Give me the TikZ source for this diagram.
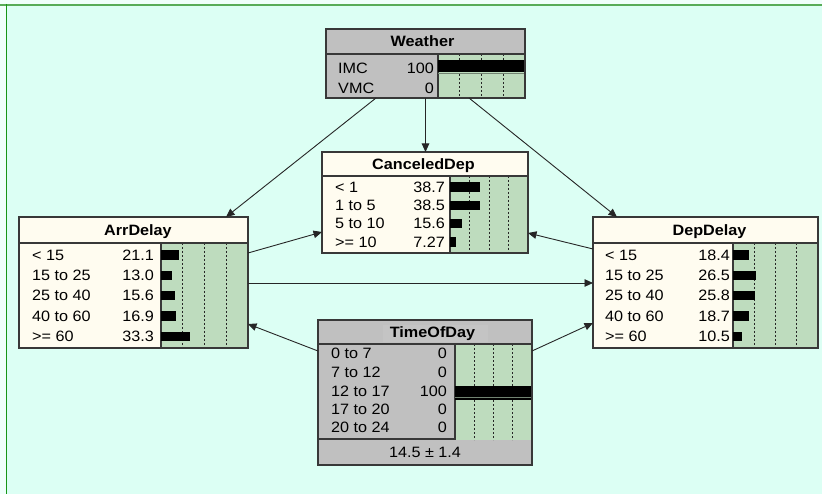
\documentclass[tikz,border=0pt]{standalone}
\usepackage{fontspec}
\setmainfont{Liberation Sans}
\usetikzlibrary{arrows.meta,calc,fit}

\definecolor{canvas}{RGB}{220,255,244}
\definecolor{outerbg}{RGB}{240,255,251}
\definecolor{rulegreen}{RGB}{88,172,88}
\definecolor{edgegreen}{RGB}{24,150,24}
\definecolor{cream}{RGB}{255,252,240}
\definecolor{evidence}{RGB}{192,192,192}
\definecolor{evidencehi}{RGB}{196,196,196}
\definecolor{panelbg}{RGB}{190,220,190}
\definecolor{ink}{RGB}{56,56,56}

% widened lettering, as in the monitor windows
\newcommand\wide[1]{\scalebox{1.08}[1]{#1}}
% green belief-bar panel with dotted quarter marks: split x, top, right, bottom
\newcommand\greenpanel[4]{%
  \fill[panelbg] (#1,#2) rectangle (#3,#4);
  \foreach \k in {1,2,3}
    \draw[quarterline] ({#1+\k*(#3-#1)/4},#2) -- ({#1+\k*(#3-#1)/4},#4);
  \draw[boxrule] (#1,#2) -- (#1,#4);
}
% belief bar: split x, panel width, percent, row centre
\newcommand\probbar[4]{%
  \fill[black] (#1,#4-4.8) rectangle ({#1+#2*#3/100},#4+4.8);
}
% state row: name, label x, value right x, row centre, label, value
\newcommand\staterow[6]{%
  \node[rowtxt, anchor=base west] (#1l) at (#2,#4+5.3) {\wide{#5}};
  \node[rowtxt, anchor=base east] (#1v) at (#3,#4+5.3) {\wide{#6}};
}

\begin{document}
\begin{tikzpicture}[x=1pt,y=-1pt,
  boxrule/.style={draw=ink, line width=1.3pt},
  quarterline/.style={draw=black!85, line width=0.9pt, dash pattern=on 2pt off 2pt},
  netlink/.style={draw=black!85, line width=0.9pt, -{Triangle[length=8.5pt,width=7.5pt]}},
  rowtxt/.style={inner sep=0pt, font=\fontsize{15}{17}\selectfont},
  titletxt/.style={inner sep=0pt, anchor=base, font=\fontsize{15}{17}\selectfont\bfseries},
  netbox/.style={inner sep=0pt, outer sep=0pt},
]
\useasboundingbox (0,0) rectangle (822,494);

% canvas and window rules
\fill[outerbg] (0,0) rectangle (822,494);
\fill[canvas] (6,5) rectangle (822,494);
\draw[rulegreen, line width=1.8pt] (0,4.8) -- (822,4.8);
\draw[edgegreen, line width=1.8pt] (6.5,4) -- (6.5,494);

% ---------------- Weather
\node[netbox, fit={(326,29) (525,98)}, fill=evidence] (weather) {};
\greenpanel{438}{54}{525}{98}
\fill[black] (438,60) rectangle (525,72.5);
\draw[black!40!panelbg, line width=0.9pt] (438,73.6) -- (525,73.6);
\draw[boxrule] (326,54) -- (525,54);
\node[titletxt] (weather-title) at (422.5,47) {\wide{Weather}};
\staterow{weather-s1}{338}{434}{68}{IMC}{100}
\staterow{weather-s2}{338}{434}{88}{VMC}{0}
\draw[boxrule] (weather.north west) rectangle (weather.south east);

% ---------------- CanceledDep
\node[netbox, fit={(322,152) (528,253)}, fill=cream] (cancel) {};
\greenpanel{450}{176}{528}{253}
\probbar{450}{78}{38.7}{187}
\probbar{450}{78}{38.5}{205.5}
\probbar{450}{78}{15.6}{223.5}
\probbar{450}{78}{7.27}{242}
\draw[boxrule] (322,176) -- (528,176);
\node[titletxt] (cancel-title) at (423.5,169.5) {\wide{CanceledDep}};
\staterow{cancel-s1}{335}{445}{187}{< 1}{38.7}
\staterow{cancel-s2}{335}{445}{205.5}{1 to 5}{38.5}
\staterow{cancel-s3}{335}{445}{223.5}{5 to 10}{15.6}
\staterow{cancel-s4}{335}{445}{242}{>= 10}{7.27}
\draw[boxrule] (cancel.north west) rectangle (cancel.south east);

% ---------------- ArrDelay
\node[netbox, fit={(19,217) (248,348)}, fill=cream] (arr) {};
\greenpanel{161}{243}{248}{348}
\probbar{161}{87}{21.1}{255}
\probbar{161}{87}{13.0}{275.5}
\probbar{161}{87}{15.6}{295.5}
\probbar{161}{87}{16.9}{316}
\probbar{161}{87}{33.3}{336.5}
\draw[boxrule] (19,243) -- (248,243);
\node[titletxt] (arr-title) at (138,235.5) {\wide{ArrDelay}};
\staterow{arr-s1}{32}{154}{255}{< 15}{21.1}
\staterow{arr-s2}{32}{154}{275.5}{15 to 25}{13.0}
\staterow{arr-s3}{32}{154}{295.5}{25 to 40}{15.6}
\staterow{arr-s4}{32}{154}{316}{40 to 60}{16.9}
\staterow{arr-s5}{32}{154}{336.5}{>= 60}{33.3}
\draw[boxrule] (arr.north west) rectangle (arr.south east);

% ---------------- DepDelay
\node[netbox, fit={(593,217) (818,348)}, fill=cream] (dep) {};
\greenpanel{733}{243}{818}{348}
\probbar{733}{85}{18.4}{255}
\probbar{733}{85}{26.5}{275.5}
\probbar{733}{85}{25.8}{295.5}
\probbar{733}{85}{18.7}{316}
\probbar{733}{85}{10.5}{336.5}
\draw[boxrule] (593,243) -- (818,243);
\node[titletxt] (dep-title) at (709.5,235.5) {\wide{DepDelay}};
\staterow{dep-s1}{605}{730}{255}{< 15}{18.4}
\staterow{dep-s2}{605}{730}{275.5}{15 to 25}{26.5}
\staterow{dep-s3}{605}{730}{295.5}{25 to 40}{25.8}
\staterow{dep-s4}{605}{730}{316}{40 to 60}{18.7}
\staterow{dep-s5}{605}{730}{336.5}{>= 60}{10.5}
\draw[boxrule] (dep.north west) rectangle (dep.south east);

% ---------------- TimeOfDay
\node[netbox, fit={(318,320) (532,465)}, fill=evidence] (time) {};
\fill[evidencehi] (383,325) rectangle (488,342);
\greenpanel{455}{344}{532}{440}
\fill[black] (455,385.5) rectangle (532,399.5);
\draw[black!40!panelbg, line width=0.8pt] (455,397.6) -- (532,397.6);
\draw[boxrule] (318,344) -- (532,344);
\draw[boxrule] (318,439) -- (455,439);
\node[titletxt] (time-title) at (432.5,337.5) {\wide{TimeOfDay}};
\staterow{time-s1}{331}{447}{353.5}{0 to 7}{0}
\staterow{time-s2}{331}{447}{372.5}{7 to 12}{0}
\staterow{time-s3}{331}{447}{391}{12 to 17}{100}
\staterow{time-s4}{331}{447}{409.5}{17 to 20}{0}
\staterow{time-s5}{331}{447}{427.5}{20 to 24}{0}
\node[rowtxt, anchor=base] (time-mean) at (425,457.5) {\wide{14.5 ± 1.4}};
\draw[boxrule] (time.north west) rectangle (time.south east);

% ---------------- links
\draw[netlink] ($(weather.south west)+(50,0)$) -- ($(arr.north west)+(207,0)$);
\draw[netlink] (weather.south) -- (weather.south |- cancel.north);
\draw[netlink] ($(weather.south west)+(143,0)$) -- ($(dep.north west)+(24,0)$);
\draw[netlink] ($(arr.north east)+(0,36)$) -- ($(cancel.north west)+(0,80)$);
\draw[netlink] ($(dep.north west)+(0,32)$) -- ($(cancel.north east)+(0,81)$);
\draw[netlink] ($(arr.north east)+(0,66)$) -- ($(dep.north west)+(0,66)$);
\draw[netlink] ($(time.north west)+(0,31)$) -- ($(arr.north east)+(0,107)$);
\draw[netlink] ($(time.north east)+(0,31)$) -- ($(dep.north west)+(0,106)$);
\end{tikzpicture}
\end{document}
